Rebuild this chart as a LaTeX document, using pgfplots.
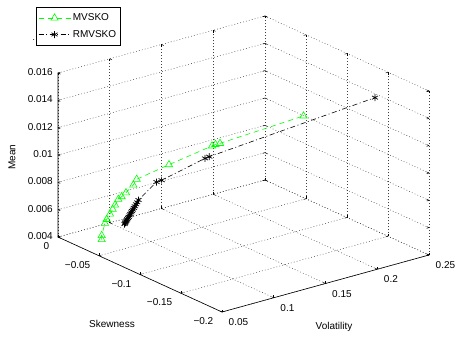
\documentclass[border=0pt]{standalone}
\usepackage{pgfplots}
\pgfplotsset{compat=1.18}
\usepackage{fontspec}
\setmainfont{Liberation Sans}
\definecolor{mgreen}{RGB}{0,255,0}

\pgfplotstableread{
v s m
0.0670 -0.0318 0.00433
0.0670 -0.0318 0.00463
0.0690 -0.0333 0.00552
0.0700 -0.0341 0.00581
0.0720 -0.0356 0.00620
0.0736 -0.0369 0.00655
0.0750 -0.0380 0.00686
0.0770 -0.0395 0.00728
0.0790 -0.0410 0.00747
0.0816 -0.0430 0.00776
0.0860 -0.0464 0.00833
0.0880 -0.0480 0.00875
0.1074 -0.0629 0.00982
0.1332 -0.0828 0.01120
0.1353 -0.0844 0.01131
0.1380 -0.0865 0.01139
0.1881 -0.1251 0.01341
}\mvsko
\pgfplotstableread{
v s m
0.0807 -0.0424 0.00547
0.0810 -0.0426 0.00553
0.0813 -0.0428 0.00560
0.0816 -0.0431 0.00567
0.0820 -0.0433 0.00574
0.0824 -0.0436 0.00582
0.0828 -0.0440 0.00591
0.0832 -0.0443 0.00600
0.0837 -0.0447 0.00611
0.0842 -0.0451 0.00621
0.0847 -0.0455 0.00632
0.0852 -0.0458 0.00642
0.0857 -0.0462 0.00653
0.0863 -0.0467 0.00665
0.0869 -0.0471 0.00677
0.0876 -0.0477 0.00692
0.0883 -0.0482 0.00706
0.0891 -0.0488 0.00723
0.0999 -0.0571 0.00855
0.1030 -0.0595 0.00868
0.1290 -0.0796 0.01029
0.1316 -0.0815 0.01041
0.2310 -0.1581 0.01476
}\rmvsko

\begin{document}
\begin{tikzpicture}[font=\fontsize{10}{12}\selectfont]
\begin{axis}[
  x={(1035pt,285pt)}, y={(-820pt,375pt)}, z={(0pt,13667pt)},
  xmin=0.05, xmax=0.25, ymin=-0.2, ymax=0, zmin=0.004, zmax=0.016,
  xtick={0.05,0.1,0.15,0.2,0.25}, xticklabels={0.05,0.1,0.15,0.2,0.25},
  ytick={-0.2,-0.15,-0.1,-0.05,0}, yticklabels={−0.2,−0.15,−0.1,−0.05,0},
  ztick={0.004,0.006,0.008,0.01,0.012,0.014,0.016},
  zticklabels={0.004,0.006,0.008,0.01,0.012,0.014,0.016},
  grid=major,
  grid style={black!75, line width=0.5pt, dash pattern=on 0.8pt off 2.2pt},
  axis line style={draw=none},
  tick style={black, line width=0.5pt},
  major tick length=2.5pt,
  tick label style={font=\fontsize{10}{12}\selectfont, inner sep=0pt},
  xticklabel style={anchor=north west, xshift=6.5pt, yshift=-6.5pt},
  yticklabel style={anchor=north east, xshift=-8.5pt, yshift=-5.5pt},
  zticklabel style={anchor=east, xshift=-5pt, yshift=1pt},
  xlabel={Volatility}, ylabel={Skewness}, zlabel={Mean},
  every axis x label/.style={at={([shift={(8.5pt,-43.5pt)}]axis cs:0.15,-0.2,0.004)}, anchor=center},
  every axis y label/.style={at={([shift={(-28pt,-49.5pt)}]axis cs:0.05,-0.1,0.004)}, anchor=center},
  every axis z label/.style={at={([shift={(-46pt,-2pt)}]axis cs:0.05,0,0.01)}, anchor=center, rotate=90},
  legend style={at={(axis cs:0.05,0,0.004)}, anchor=north west, xshift=-22pt, yshift=230pt,
    draw=black, line width=0.5pt, fill=white, font=\fontsize{10}{12}\selectfont,
    inner xsep=2pt, inner ysep=4pt, row sep=3pt,
    nodes={inner sep=2pt, text height=7.5pt, text depth=2pt}},
  legend cell align=left,
  legend image code/.code={\draw[mark repeat=2,mark phase=2] plot coordinates {(0pt,0pt) (16pt,0pt) (32pt,0pt)};},
  clip=false,
]
\addplot3[color=mgreen, line width=0.6pt, dash pattern=on 5pt off 4pt, mark=triangle, mark size=4.2pt, mark options={solid}]
  table[x=v, y=s, z=m] {\mvsko};
\addlegendentry{MVSKO}
\addplot3[color=black, line width=0.6pt, dash pattern=on 5pt off 2.5pt on 1pt off 2.5pt, mark=asterisk, mark size=3.5pt, mark options={solid, line width=0.7pt}]
  table[x=v, y=s, z=m] {\rmvsko};
\addlegendentry{RMVSKO}
\draw[black, line width=0.6pt] (axis cs:0.05,0,0.016) -- (axis cs:0.05,0,0.004) -- (axis cs:0.05,-0.2,0.004) -- (axis cs:0.25,-0.2,0.004);
\coordinate (O) at (axis cs:0.05,0,0.004);
\end{axis}
\pgfresetboundingbox
\path[use as bounding box] ([shift={(-58pt,237pt)}]O) rectangle ([shift={(401pt,-104pt)}]O);
\end{tikzpicture}
\end{document}
